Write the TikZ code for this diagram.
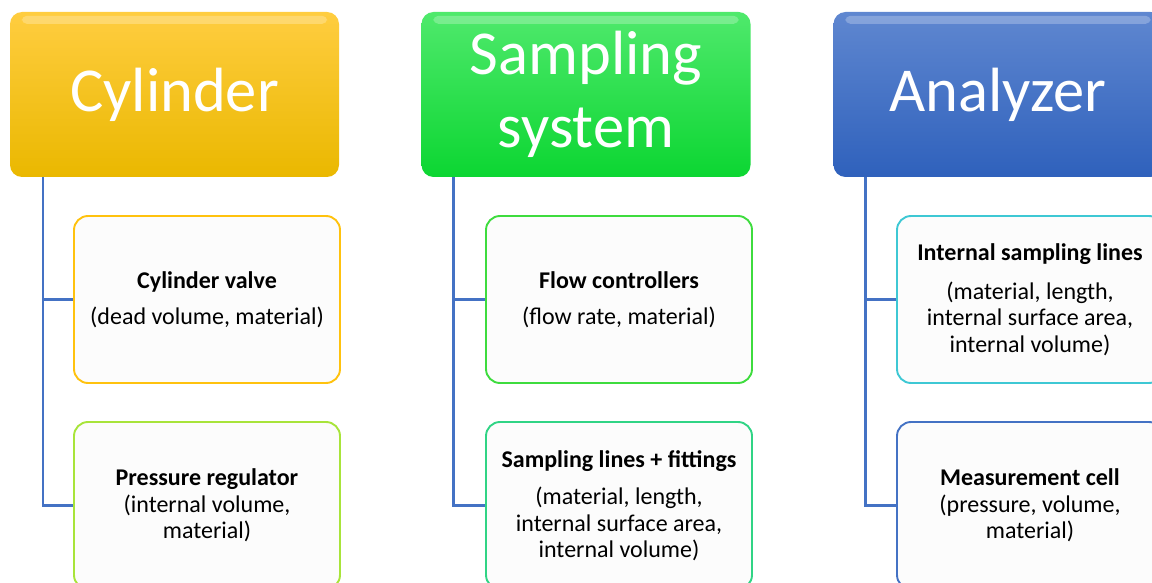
\documentclass[tikz,border=0pt]{standalone}
\usepackage{fontspec}
\setmainfont{Carlito}
\definecolor{hAtop}{HTML}{FFCD40}
\definecolor{hAbot}{HTML}{EAB800}
\definecolor{hBtop}{HTML}{4FE96C}
\definecolor{hBbot}{HTML}{0CD632}
\definecolor{hCtop}{HTML}{5F87D0}
\definecolor{hCbot}{HTML}{2F61BC}
\definecolor{connblue}{HTML}{4472C4}
\definecolor{boxfill}{HTML}{FCFCFC}
\definecolor{bAa}{HTML}{FFC20E}
\definecolor{bAb}{HTML}{A8E43A}
\definecolor{bBa}{HTML}{3EDC3E}
\definecolor{bBb}{HTML}{30D485}
\definecolor{bCa}{HTML}{3EC8D4}
\definecolor{bCb}{HTML}{4472C4}
\begin{document}
\begin{tikzpicture}[x=1pt,y=-1pt,
  hdr/.style={rounded corners=12pt, minimum width=329pt, minimum height=165pt,
    text=white, font=\fontsize{62.5}{73}\selectfont, align=center, inner sep=0pt},
  child/.style={rounded corners=14pt, minimum width=266pt, minimum height=167pt,
    fill=boxfill, line width=1.9pt, align=center, inner sep=0pt,
    font=\fontsize{24}{26.5}\selectfont},
  conn/.style={draw=connblue, line width=2.6pt},
  gloss/.style={fill=white, opacity=0.25, rounded corners=5pt}]
\useasboundingbox (0,0) rectangle (1152,583);
\clip (0,0) rectangle (1152,583);

% headers
\node[hdr, top color=hAtop, bottom color=hAbot] (h1) at (174.5,94.5) {Cylinder};
\node[hdr, top color=hBtop, bottom color=hBbot] (h2) at (586,94.5) {Sampling\\system};
\node[hdr, top color=hCtop, bottom color=hCbot] (h3) at (998,94.5) {Analyzer};

\fill[gloss] ([shift={(12,4)}]h1.north west) rectangle ([shift={(-12,12)}]h1.north east);
\fill[gloss] ([shift={(12,4)}]h2.north west) rectangle ([shift={(-12,12)}]h2.north east);
\fill[gloss] ([shift={(12,4)}]h3.north west) rectangle ([shift={(-12,12)}]h3.north east);

% children
\node[child, draw=bAa] (c11) at (207,299.5) {\textbf{Cylinder valve}\\[10pt](dead volume, material)};
\node[child, draw=bAb] (c12) at (207,505.5) {\textbf{Pressure regulator}\\(internal volume,\\material)};
\node[child, draw=bBa] (c21) at (619,299.5) {\textbf{Flow controllers}\\[10pt](flow rate, material)};
\node[child, draw=bBb] (c22) at (619,505.5) {\textbf{Sampling lines + fittings}\\[11pt](material, length,\\internal surface area,\\internal volume)};
\node[child, draw=bCa] (c31) at (1030,299.5) {\textbf{Internal sampling lines}\\[12pt](material, length,\\internal surface area,\\internal volume)};
\node[child, draw=bCb] (c32) at (1030,505.5) {\textbf{Measurement cell}\\(pressure, volume,\\material)};

% connectors
\draw[conn] ([xshift=33pt]h1.south west) |- (c11.west);
\draw[conn] ([xshift=33pt]h1.south west) |- (c12.west);
\draw[conn] ([xshift=32pt]h2.south west) |- (c21.west);
\draw[conn] ([xshift=32pt]h2.south west) |- (c22.west);
\draw[conn] ([xshift=32pt]h3.south west) |- (c31.west);
\draw[conn] ([xshift=32pt]h3.south west) |- (c32.west);
\end{tikzpicture}
\end{document}
